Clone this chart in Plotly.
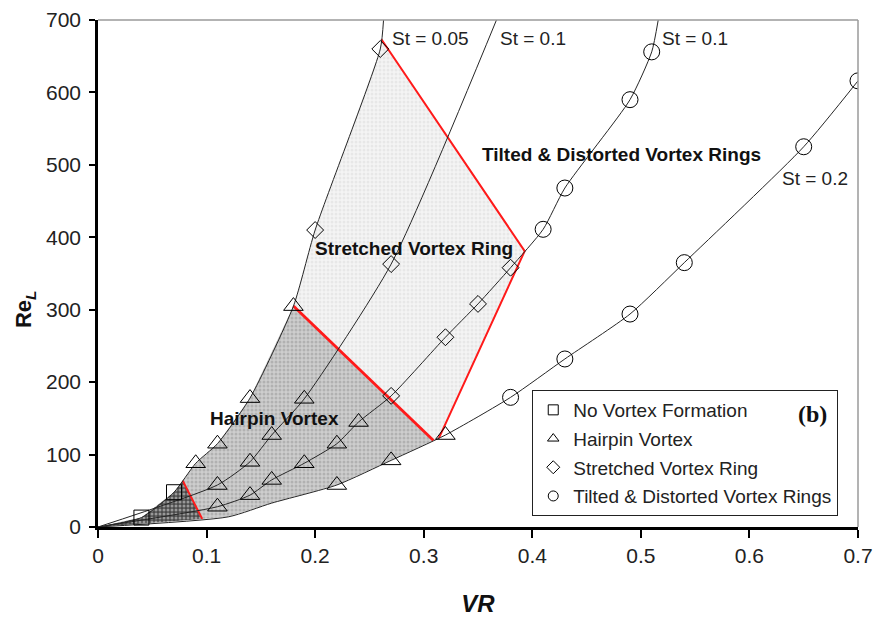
import numpy as np
import plotly.graph_objects as go

# ---------------- data ----------------
# each St curve: VR, Re_L, and the flow regime of the marker at that point
# regimes: N = no vortex formation, H = hairpin vortex, S = stretched vortex ring,
#          T = tilted & distorted vortex rings, "" = line only (no marker)
c1_vr = [0, 0.04, 0.07, 0.09, 0.11, 0.14, 0.18, 0.20, 0.26, 0.263]
c1_re = [0, 13, 48, 88, 115, 178, 305, 410, 660, 700]
c1_regime = ["", "N", "N", "H", "H", "H", "H", "S", "S", ""]

c2_vr = [0, 0.11, 0.14, 0.16, 0.19, 0.27, 0.367]
c2_re = [0, 58, 90, 127, 177, 363, 700]
c2_regime = ["", "H", "H", "H", "H", "S", ""]

c3_vr = [0, 0.11, 0.14, 0.16, 0.19, 0.22, 0.24, 0.27, 0.32, 0.35, 0.38, 0.41, 0.43, 0.49, 0.51, 0.516]
c3_re = [0, 28, 44, 65, 88, 115, 145, 181, 262, 308, 358, 411, 468, 590, 656, 700]
c3_regime = ["", "H", "H", "H", "H", "H", "H", "S", "S", "S", "S", "T", "T", "T", "T", ""]

c4_vr = [0, 0.12, 0.16, 0.22, 0.27, 0.32, 0.38, 0.43, 0.49, 0.54, 0.65, 0.70]
c4_re = [0, 14, 33, 58, 92, 127, 179, 232, 294, 365, 525, 616]
c4_regime = ["", "", "", "H", "H", "H", "T", "T", "T", "T", "T", "T"]

curve_labels = ["St = 0.05", "St = 0.1", "St = 0.1", "St = 0.2"]

# regime boundaries (VR where each red line meets a curve)
bound_a_c1, bound_a_c4 = 0.078, 0.096           # no vortex | hairpin
bound_b_c1, bound_b_c4 = 0.18, 0.309            # hairpin | stretched
bound_c_c1, bound_c_c3, bound_c_c4 = 0.261, 0.393, 0.314   # stretched | tilted

regime_names = {
    "N": "No Vortex Formation",
    "H": "Hairpin Vortex",
    "S": "Stretched Vortex Ring",
    "T": "Tilted & Distorted Vortex Rings",
}
regime_symbols = {"N": "square-open", "H": "triangle-up-open",
                  "S": "diamond-open", "T": "circle-open"}
regime_sizes = {"N": 15, "H": 17, "S": 13, "T": 16}

curves = [(c1_vr, c1_re, c1_regime), (c2_vr, c2_re, c2_regime),
          (c3_vr, c3_re, c3_regime), (c4_vr, c4_re, c4_regime)]


def at(curve, v):
    return float(np.interp(v, curve[0], curve[1]))


def seg(curve, v0, v1):
    xs = [v0] + [v for v in curve[0] if v0 < v < v1] + [v1]
    ys = [at(curve, v) for v in xs]
    return xs, ys


C1, C2, C3, C4 = curves

fig = go.Figure()

# ---------------- regime regions ----------------
def add_region(xs, ys, bg, fg, solidity):
    fig.add_trace(go.Scatter(
        x=xs, y=ys, mode="none", fill="toself", fillcolor=bg,
        fillpattern=dict(shape=".", bgcolor=bg, fgcolor=fg, size=4, solidity=solidity),
        hoverinfo="skip", showlegend=False))

# no vortex formation
ax, ay = seg(C1, 0, bound_a_c1)
bx, by = seg(C4, 0, bound_a_c4)
add_region(ax + bx[::-1], ay + by[::-1], "#4a4a4a", "#e8e8e8", 0.45)

# hairpin vortex
ax, ay = seg(C1, bound_a_c1, bound_b_c1)
bx, by = seg(C4, bound_a_c4, bound_b_c4)
add_region(ax + bx[::-1], ay + by[::-1], "#cecece", "#939393", 0.45)

# stretched vortex ring
ax, ay = seg(C1, bound_b_c1, bound_c_c1)
bx, by = seg(C4, bound_b_c4, bound_c_c4)
sx = ax + [bound_c_c3] + bx[::-1]
sy = ay + [at(C3, bound_c_c3)] + by[::-1]
add_region(sx, sy, "#f4f4f4", "#dadada", 0.45)

# ---------------- red regime boundaries ----------------
red_lines = [
    ([bound_a_c1, bound_a_c4], [at(C1, bound_a_c1), at(C4, bound_a_c4)], 2),
    ([bound_b_c1, bound_b_c4], [at(C1, bound_b_c1), at(C4, bound_b_c4)], 2.8),
    ([bound_c_c1, bound_c_c3, bound_c_c4],
     [at(C1, bound_c_c1), at(C3, bound_c_c3), at(C4, bound_c_c4)], 2),
]
for xs, ys, w in red_lines:
    fig.add_trace(go.Scatter(x=xs, y=ys, mode="lines",
                             line=dict(color="#ff1a1a", width=w),
                             hoverinfo="skip", showlegend=False))

# ---------------- St curves ----------------
for (vr, re, _), lab in zip(curves, curve_labels):
    fig.add_trace(go.Scatter(x=vr, y=re, mode="lines", name=lab,
                             line=dict(color="#262626", width=1, shape="spline", smoothing=0.6),
                             showlegend=False))

# ---------------- markers by regime ----------------
for key in ["N", "H", "S", "T"]:
    xs, ys = [], []
    for vr, re, rg in curves:
        for v, r, g in zip(vr, re, rg):
            if g == key:
                xs.append(v)
                ys.append(r)
    fig.add_trace(go.Scatter(
        x=xs, y=ys, mode="markers", name=regime_names[key], showlegend=False,
        marker=dict(symbol=regime_symbols[key], size=regime_sizes[key],
                    color="black", line=dict(width=1))))

# legend entries (small symbols)
for i, key in enumerate(["N", "H", "S", "T"]):
    fig.add_trace(go.Scatter(
        x=[None], y=[None], mode="markers", name=regime_names[key],
        legendgroup=key, showlegend=True,
        marker=dict(symbol=regime_symbols[key], size=10, color="black",
                    line=dict(width=1))))

# ---------------- text labels ----------------
FAM = "Liberation Sans, Arial, sans-serif"
lab_font = dict(family=FAM, size=19, color="#222")
bold_font = dict(family=FAM, size=19, color="#111")
texts = [
    ("St = 0.05", 0.269, 674, lab_font),
    ("St = 0.1", 0.368, 674, lab_font),
    ("St = 0.1", 0.518, 674, lab_font),
    ("St = 0.2", 0.628, 481, lab_font),
    ("<b>Tilted &amp; Distorted Vortex Rings</b>", 0.352, 514, bold_font),
    ("<b>Stretched Vortex Ring</b>", 0.198, 385, bold_font),
    ("<b>Hairpin Vortex</b>", 0.101, 150, bold_font),
]
for t, x, y, f in texts:
    fig.add_annotation(text=t, x=x, y=y, xref="x", yref="y", xanchor="left",
                       yanchor="middle", showarrow=False, font=f)

fig.add_annotation(text="<b>(b)</b>", xref="paper", yref="paper", x=0.962, y=0.223,
                   xanchor="right", yanchor="middle", showarrow=False,
                   font=dict(family="Liberation Serif, Times New Roman, serif", size=24, color="#111"))

# y-axis title (placed slightly below the plot centre, as in the reference)
fig.add_annotation(text="<b>Re<sub><i>L</i></sub></b>", xref="paper", yref="paper",
                   x=-0.096, y=0.43, xanchor="center", yanchor="middle", textangle=-90,
                   showarrow=False, font=dict(family=FAM, size=22, color="#111"))

# frame (top/right in grey)
fig.add_shape(type="line", xref="paper", yref="paper", x0=0, x1=1, y0=1, y1=1,
              line=dict(color="#9a9a9a", width=1.5))
fig.add_shape(type="line", xref="paper", yref="paper", x0=1, x1=1, y0=0, y1=1,
              line=dict(color="#9a9a9a", width=1.5))

tick_font = dict(family=FAM, size=21, color="#222")
fig.update_layout(
    width=874, height=617,
    margin=dict(l=98, r=16, t=20, b=90, autoexpand=False),
    paper_bgcolor="white", plot_bgcolor="white",
    font=dict(family=FAM, color="#222"),
    xaxis=dict(range=[0, 0.7], dtick=0.1, tick0=0, showgrid=False, zeroline=False,
               automargin=False,
               showline=True, linecolor="black", linewidth=2.5,
               ticks="outside", ticklen=8, tickwidth=2, tickcolor="black",
               tickfont=tick_font,
               title=dict(text="<b><i>VR</i></b>", font=dict(size=24, color="#111"), standoff=32)),
    yaxis=dict(range=[0, 700], dtick=100, tick0=0, showgrid=False, zeroline=False,
               automargin=False,
               showline=True, linecolor="black", linewidth=2.5,
               ticks="outside", ticklen=6, tickwidth=2, tickcolor="black",
               tickfont=tick_font, ticklabelstandoff=4),
    legend=dict(x=0.974, y=0.0217, xanchor="right", yanchor="bottom",
                bgcolor="white", bordercolor="#222", borderwidth=1,
                font=dict(family=FAM, size=19, color="#222"),
                tracegroupgap=1, itemwidth=30),
)

fig.write_html("out.html")
